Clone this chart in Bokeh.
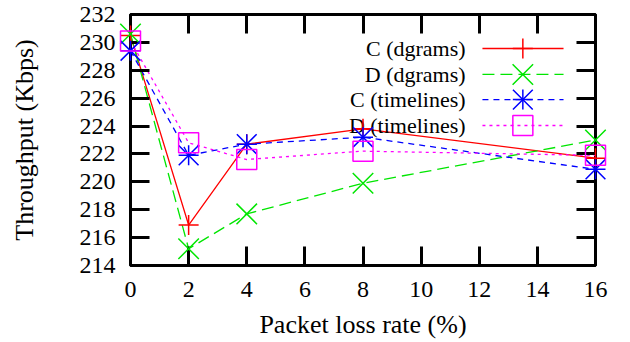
from bokeh.plotting import figure
from bokeh.models import Range1d, LinearAxis, FixedTicker
from bokeh.core.properties import value
from bokeh.embed import file_html
from bokeh.resources import INLINE

# Throughput measured at each packet loss rate
loss_rate = [0, 2, 4, 8, 16]
c_dgrams = [230.5, 216.9, 222.7, 223.8, 221.7]
d_dgrams = [230.6, 215.2, 217.7, 219.9, 223.0]
c_timelines = [229.4, 221.9, 222.7, 223.2, 220.9]
d_timelines = [230.1, 222.8, 221.6, 222.2, 221.9]

x_ticks = [0, 2, 4, 6, 8, 10, 12, 14, 16]
y_ticks = [214, 216, 218, 220, 222, 224, 226, 228, 230, 232]

FONT = "Liberation Serif"

p = figure(width=630, height=342, output_backend="svg", toolbar_location=None,
           x_range=Range1d(0, 16), y_range=Range1d(214, 232),
           min_border_left=130, min_border_right=35,
           min_border_top=14, min_border_bottom=77)
p.xgrid.visible = False
p.ygrid.visible = False
p.outline_line_color = "black"
p.outline_line_width = 3
p.background_fill_color = "white"
p.border_fill_color = "white"


def style_axis(ax, ticks, show_labels):
    ax.ticker = FixedTicker(ticks=ticks)
    ax.minor_tick_line_color = None
    ax.major_tick_in = 19
    ax.major_tick_out = 0
    ax.major_tick_line_width = 3
    ax.major_tick_line_color = "black"
    ax.axis_line_color = None
    if show_labels:
        ax.major_label_text_font = FONT
        ax.major_label_text_font_size = "24px"
        ax.major_label_text_color = "black"
        ax.axis_label_text_font = FONT
        ax.axis_label_text_font_size = "26px"
        ax.axis_label_text_font_style = "normal"
        ax.axis_label_text_color = "black"
    else:
        # mirrored tick marks only, no labels
        ax.major_label_text_color = None
        ax.major_label_text_font_size = "1px"
        ax.major_label_standoff = 0


style_axis(p.xaxis[0], x_ticks, True)
style_axis(p.yaxis[0], y_ticks, True)
p.xaxis[0].axis_label = "Packet loss rate (%)"
p.yaxis[0].axis_label = "Throughput (Kbps)"
p.xaxis[0].major_label_standoff = 16
p.xaxis[0].axis_label_standoff = 10
p.yaxis[0].major_label_standoff = 15
p.yaxis[0].axis_label_standoff = 38

top_axis = LinearAxis()
right_axis = LinearAxis()
style_axis(top_axis, x_ticks, False)
style_axis(right_axis, y_ticks, False)
p.add_layout(top_axis, "above")
p.add_layout(right_axis, "right")

# series styles: (values, colour, dash, markers as (shape, size), label)
# the "x" shape spans about 0.7 of its size, hence the larger values
series = [
    (c_dgrams, "#ff0000", "solid", [("cross", 20)], "C (dgrams)"),
    (d_dgrams, "#00e600", "12 6", [("x", 29)], "D (dgrams)"),
    (c_timelines, "#0000ff", "6 5", [("cross", 20), ("x", 28)], "C (timelines)"),
    (d_timelines, "#ff00ff", "3 4", [("square", 20)], "D (timelines)"),
]

# key placed in the upper right of the frame (data coordinates)
key_text_x = 11.53
key_line_x = [12.11, 14.90]
key_mark_x = 13.5
key_rows = [229.56, 227.70, 225.90, 224.04]

LW = 1.3
for (vals, color, dash, markers, label), ky in zip(series, key_rows):
    p.line(loss_rate, vals, line_color=color, line_width=LW, line_dash=dash)
    p.line(key_line_x, [ky, ky], line_color=color, line_width=LW, line_dash=dash)
    for m, size in markers:
        # overlay level so points on the frame edge are not clipped
        p.scatter(loss_rate, vals, marker=m, size=size, line_color=color,
                  fill_color=None, line_width=1.5, level="overlay")
        p.scatter([key_mark_x], [ky], marker=m, size=size, line_color=color,
                  fill_color=None, line_width=1.5)
    p.text([key_text_x], [ky], text=[label], text_align="right",
           text_baseline="middle", text_font=value(FONT),
           text_font_size="22px", text_color="black")

open("out.html", "w").write(file_html(p, INLINE))
